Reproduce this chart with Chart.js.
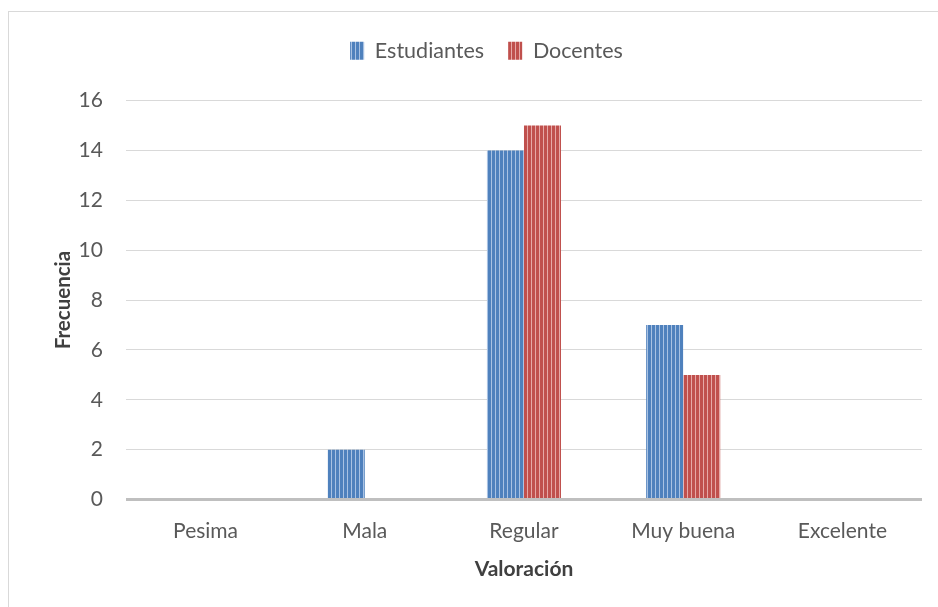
<!DOCTYPE html>
<html>
<head>
<meta charset="utf-8">
<script src="https://cdn.jsdelivr.net/npm/chart.js@4.4.1/dist/chart.umd.min.js"></script>
<style>
  html, body { margin: 0; padding: 0; background: #fff; overflow: hidden; }
  #frame { position: absolute; left: 8px; top: 11px; width: 940px; height: 610px; border: 1px solid #d9d9d9; }
  #wrap { position: absolute; left: 0; top: 0; width: 938px; height: 607px; }
</style>
</head>
<body>
<div id="frame"></div>
<div id="wrap"><canvas id="chart"></canvas></div>
<script>
const categories = ['Pesima', 'Mala', 'Regular', 'Muy buena', 'Excelente'];
const estudiantes = [0, 2, 14, 7, 0];
const docentes = [0, 0, 15, 5, 0];

// vertical stripe pattern like the original fill
function stripes(base, light) {
    const c = document.createElement('canvas');
    c.width = 4;
    c.height = 4;
    const g = c.getContext('2d');
    g.fillStyle = base;
    g.fillRect(0, 0, 4, 4);
    g.fillStyle = light;
    g.fillRect(3, 0, 1, 4);
    return g.createPattern(c, 'repeat');
}

const bluePattern = stripes('#4f81bd', '#a9c2e3');
const redPattern = stripes('#c0504d', '#e6a9a7');

const font = "Lato, 'Open Sans', sans-serif";

// extra space between the legend and the plot
const legendGap = {
    id: 'legendGap',
    beforeInit(chart) {
        const fit = chart.legend.fit;
        chart.legend.fit = function () {
            fit.bind(chart.legend)();
            this.height += 29;
        };
    }
};

const ctx = document.getElementById('chart').getContext('2d');
new Chart(ctx, {
    type: 'bar',
    data: {
        labels: categories,
        datasets: [
            {
                label: 'Estudiantes',
                data: estudiantes,
                backgroundColor: bluePattern,
                borderWidth: 0
            },
            {
                label: 'Docentes',
                data: docentes,
                backgroundColor: redPattern,
                borderWidth: 0
            }
        ]
    },
    options: {
        responsive: true,
        maintainAspectRatio: false,
        animation: false,
        categoryPercentage: 0.465,
        barPercentage: 1,
        layout: {
            padding: { left: 51, right: 16, top: 16, bottom: 21 }
        },
        scales: {
            y: {
                min: 0,
                max: 16,
                ticks: {
                    stepSize: 2,
                    color: '#595959',
                    padding: 23,
                    font: { family: font, size: 21 }
                },
                grid: {
                    color: ctx => ctx.tick && ctx.tick.value === 0 ? '#bfbfbf' : '#d9d9d9',
                    lineWidth: ctx => ctx.tick && ctx.tick.value === 0 ? 3 : 1,
                    drawTicks: false
                },
                border: { display: false },
                title: {
                    display: true,
                    text: 'Frecuencia',
                    color: '#404040',
                    font: { family: font, size: 20.5, weight: 'bold' },
                    padding: { top: 0, bottom: -20 }
                }
            },
            x: {
                ticks: {
                    color: '#595959',
                    padding: 19,
                    font: { family: font, size: 21 }
                },
                grid: { display: false, drawTicks: false },
                border: { display: false },
                title: {
                    display: true,
                    text: 'Valoración',
                    color: '#404040',
                    font: { family: font, size: 21, weight: 'bold' },
                    padding: { top: -6 }
                }
            }
        },
        plugins: {
            legend: {
                display: true,
                position: 'top',
                labels: {
                    color: '#595959',
                    boxWidth: 14,
                    boxHeight: 18,
                    padding: 24,
                    font: { family: font, size: 21.5 }
                }
            },
            tooltip: { enabled: false }
        }
    },
    plugins: [legendGap]
});
</script>
</body>
</html>
